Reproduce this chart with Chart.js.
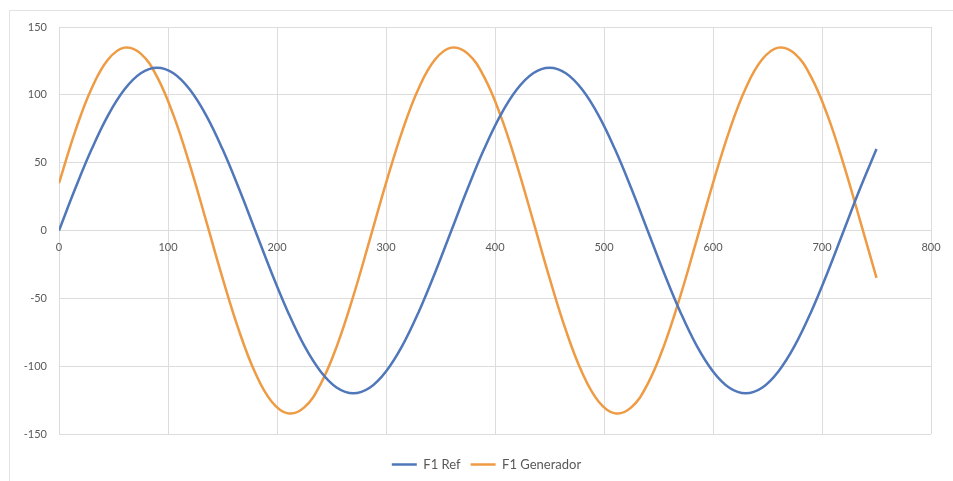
<!DOCTYPE html>
<html>
<head>
<meta charset="utf-8">
<script src="https://cdn.jsdelivr.net/npm/chart.js@4"></script>
<style>
  html, body { margin: 0; padding: 0; background: #fff; }
  #frame { position: absolute; left: 9px; top: 10px; width: 944px; height: 471px; border-left: 1px solid #e3e3e3; border-top: 1px solid #e3e3e3; box-sizing: border-box; }
  #wrap { position: absolute; left: 0; top: 0; width: 953px; height: 481px; }
</style>
</head>
<body>
<div id="frame"></div>
<div id="wrap"><canvas id="canvas"></canvas></div>
<script>
// sample positions (x), every 15 units
var xValues = [0,15,30,45,60,75,90,105,120,135,150,165,180,195,210,225,240,255,270,285,
  300,315,330,345,360,375,390,405,420,435,450,465,480,495,510,525,540,555,570,585,
  600,615,630,645,660,675,690,705,720,735,750];

// F1 Ref
var refValues = [0,31.1,60,84.9,103.9,115.9,120,115.9,103.9,84.9,60,31.1,0,-31.1,-60,-84.9,-103.9,-115.9,-120,-115.9,
  -103.9,-84.9,-60,-31.1,0,31.1,60,84.9,103.9,115.9,120,115.9,103.9,84.9,60,31.1,0,-31.1,-60,-84.9,
  -103.9,-115.9,-120,-115.9,-103.9,-84.9,-60,-31.1,0,31.1,60];

// F1 Generador
var genValues = [34.9,73.5,104.9,126,134.8,130.4,113.2,85,48.4,7.1,-34.9,-73.5,-104.9,-126,-134.8,-130.4,-113.2,-85,-48.4,-7.1,
  34.9,73.5,104.9,126,134.8,130.4,113.2,85,48.4,7.1,-34.9,-73.5,-104.9,-126,-134.8,-130.4,-113.2,-85,-48.4,-7.1,
  34.9,73.5,104.9,126,134.8,130.4,113.2,85,48.4,7.1,-34.9];

var seriesNames = ['F1 Ref', 'F1 Generador'];
var seriesColors = ['#5077BA', '#EE9B44'];

function toPoints( xs, ys ){
  var pts = [];
  for( var i = 0;i<xs.length;i++ ){
    pts.push({ x: xs[i], y: ys[i] });
  }
  return pts;
}

var textColor = '#595959';
var gridColor = '#dcdcdc';

// nudges the legend to the right like in the original
var legendShift = {
  id: 'legendShift',
  afterLayout: function(chart){
    chart.legend.left += 42;
  }
};

var ctx = document.getElementById('canvas').getContext('2d');
var chart = new Chart(ctx, {
  type: 'line',
  data: {
    datasets: [{
      label: seriesNames[0],
      data: toPoints(xValues, refValues),
      borderColor: seriesColors[0],
      backgroundColor: seriesColors[0],
      borderWidth: 2.5,
      pointRadius: 0,
      tension: 0.4
    },{
      label: seriesNames[1],
      data: toPoints(xValues, genValues),
      borderColor: seriesColors[1],
      backgroundColor: seriesColors[1],
      borderWidth: 2.5,
      pointRadius: 0,
      tension: 0.4
    }]
  },
  options: {
    responsive: true,
    maintainAspectRatio: false,
    animation: false,
    events: [],
    layout: { padding: { left: 0, right: 22, top: 27, bottom: 0 } },
    scales: {
      x: {
        type: 'linear',
        position: { y: 0 },
        min: 0, max: 800,
        ticks: { stepSize: 100, color: textColor, font: { family: 'Lato', size: 11 }, padding: 10, maxRotation: 0 },
        grid: { color: gridColor, drawTicks: false },
        border: { display: false }
      },
      y: {
        min: -150, max: 150,
        afterFit: function(axis){ axis.width = 59; },
        ticks: { stepSize: 50, color: textColor, font: { family: 'Lato', size: 11 }, padding: 12 },
        grid: { color: gridColor, drawTicks: false },
        border: { display: false }
      },
      // empty strip between plot and legend
      gap: {
        type: 'linear',
        position: 'bottom',
        afterFit: function(axis){ axis.height = 14; },
        ticks: { display: false },
        grid: { display: false },
        border: { display: false }
      }
    },
    plugins: {
      legend: {
        position: 'bottom',
        labels: {
          color: textColor,
          font: { family: 'Lato', size: 13 },
          usePointStyle: true,
          pointStyle: 'line',
          pointStyleWidth: 25,
          padding: 10
        }
      },
      tooltip: { enabled: false }
    }
  },
  plugins: [legendShift]
});
</script>
</body>
</html>
